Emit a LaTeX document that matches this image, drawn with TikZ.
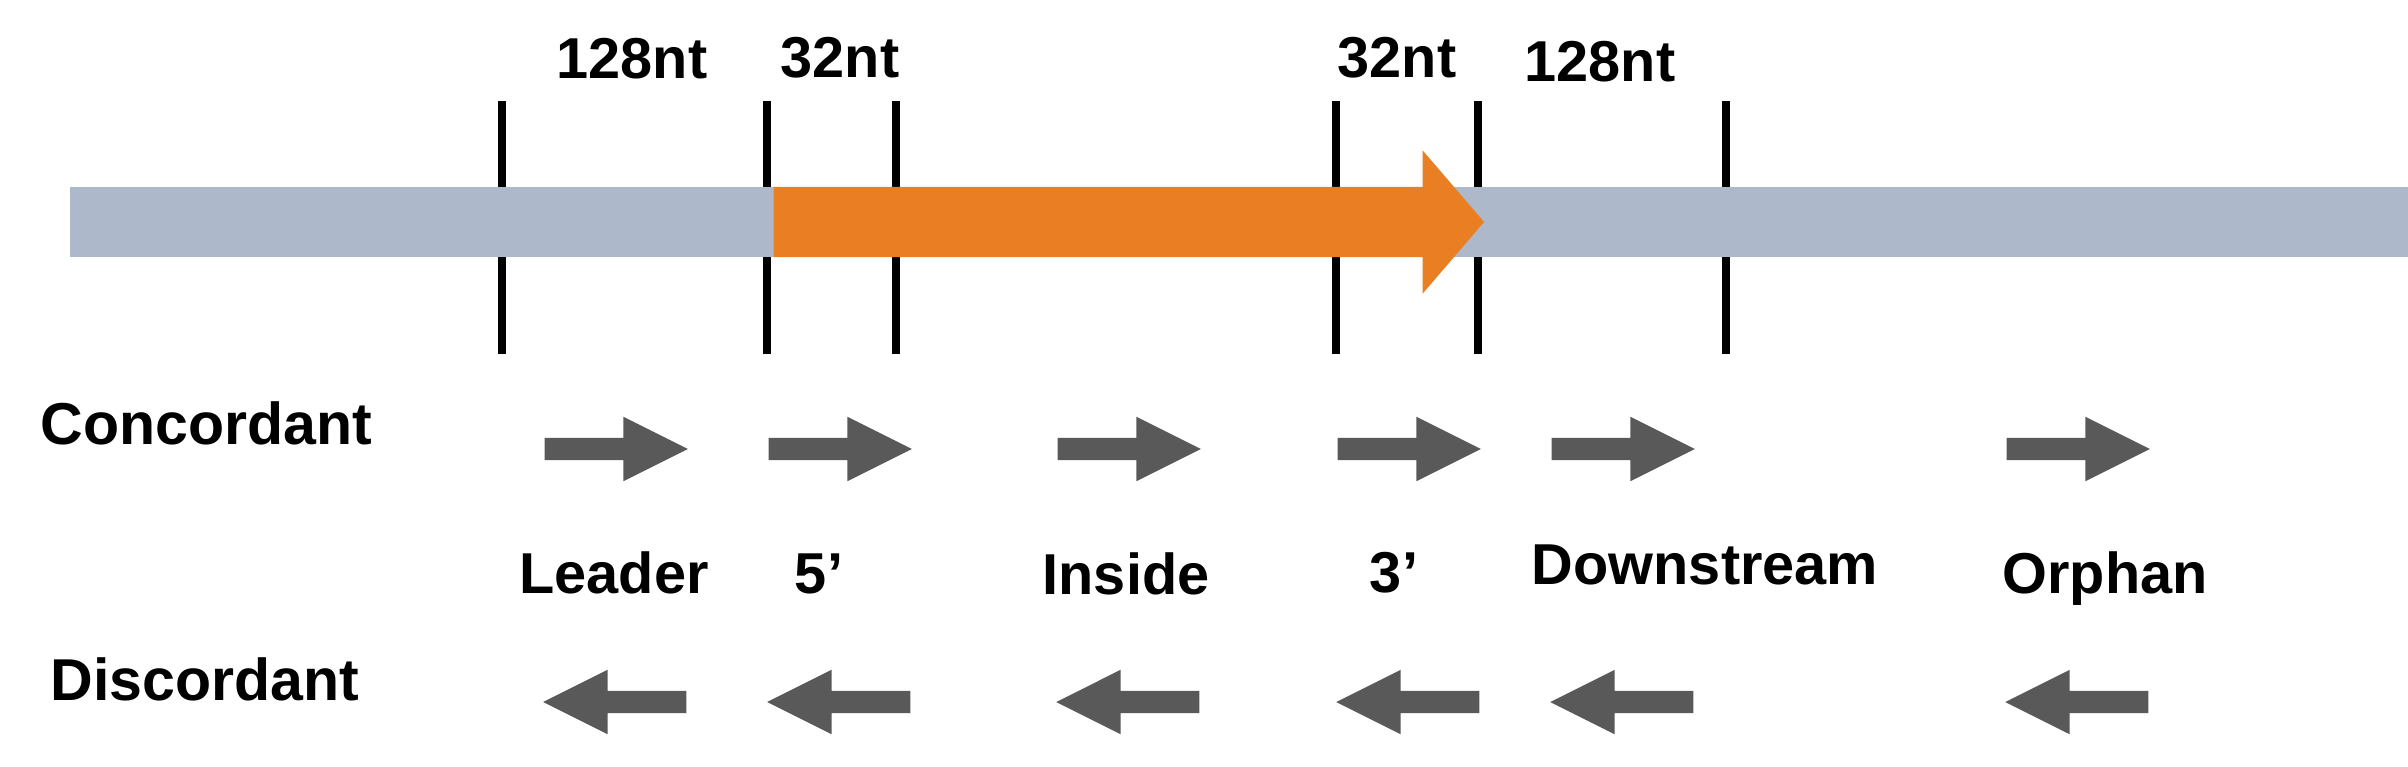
\documentclass[tikz,border=0pt]{standalone}
\usepackage{fontspec}
\setmainfont{Liberation Sans}
\usetikzlibrary{shapes.arrows}
\definecolor{genegray}{RGB}{173, 185, 202}
\definecolor{geneorange}{RGB}{234, 126, 35}
\definecolor{readgray}{RGB}{89, 89, 89}

\begin{document}
\begin{tikzpicture}[x=0.01cm, y=-0.01cm,
        lbl/.style={inner sep=0pt, anchor=base, font=\fontsize{16.4}{18}\selectfont\bfseries},
        side/.style={lbl, anchor=base west, font=\fontsize{16.8}{18}\selectfont\bfseries},
        tick/.style={line width=0.08cm, black},
        fwd/.style={single arrow, fill=readgray, inner xsep=0pt, inner ysep=0.105cm, minimum height=1.43cm, single arrow head extend=0.21cm, single arrow tip angle=53.13, anchor=tail},
        rev/.style={fwd, shape border rotate=180},
        cds/.style={single arrow, fill=geneorange, inner xsep=0pt, inner ysep=0.345cm, minimum height=7.10cm, single arrow head extend=0.365cm, single arrow tip angle=98.7}
    ]
    \useasboundingbox (0,0) rectangle (2408,766);
    % window boundaries
    \foreach \x in {502, 767, 896, 1336, 1478, 1726}
        \draw[tick] (\x,101) -- (\x,354);
    % genome and gene
    \node[fill=genegray, inner sep=0pt, minimum width=23.39cm, minimum height=0.69cm, anchor=west] (chrom) at (69,222) {};
    \node[cds, anchor=tail] (gene) at (773,222) {};
    % window sizes
    \node[lbl] (up128) at (632,78) {128nt};
    \node[lbl] (up32) at (840,77) {32nt};
    \node[lbl] (dn32) at (1397,77) {32nt};
    \node[lbl] (dn128) at (1600,81) {128nt};
    % read orientation
    \node[side] (conc) at (40,444) {Concordant};
    \node[side] (disc) at (50,700) {Discordant};
    \foreach \x [count=\i] in {544, 768, 1057, 1337, 1551, 2006} {
        \node[fwd] (c\i) at (\x,449) {};
        \node[rev] (d\i) at (\x+143,702) {};
    }
    % categories
    \node[lbl] (leader) at (614,593) {Leader};
    \node[lbl] (five) at (819,593) {5’};
    \node[lbl] (inside) at (1126,594) {Inside};
    \node[lbl] (three) at (1394,592) {3’};
    \node[lbl] (downstream) at (1705,584) {Downstream};
    \node[lbl] (orphan) at (2105,593) {Orphan};
\end{tikzpicture}
\end{document}
